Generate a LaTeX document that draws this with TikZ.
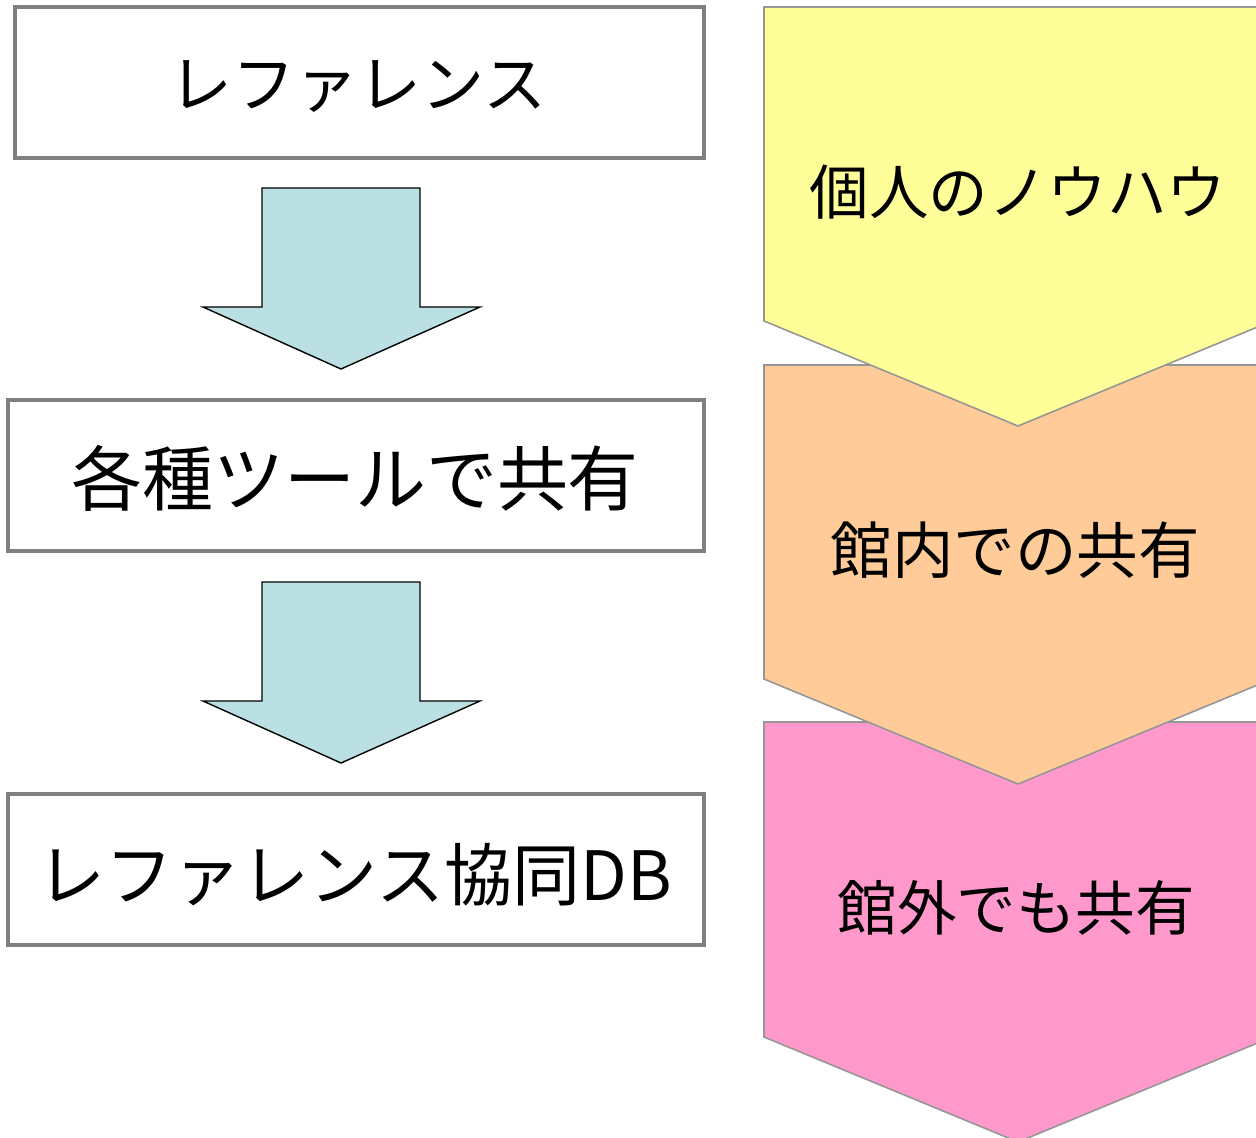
\documentclass[tikz,border=0pt]{standalone}
\usepackage{fontspec}
\setmainfont{Noto Sans CJK JP}
\begin{document}
\begin{tikzpicture}[x=1pt,y=-1pt,
  leftbox/.style={draw=boxgray,line width=4pt,fill=white,inner sep=0pt,anchor=center},
  chev/.style={draw=chevgray,line width=1.6pt},
  blockarrow/.style={draw=black,line width=1.4pt,fill=arrowblue,line join=miter},
  lbl/.style={inner sep=0pt,anchor=center,text=black}]
\definecolor{boxgray}{HTML}{808080}
\definecolor{chevgray}{HTML}{969696}
\definecolor{arrowblue}{HTML}{BBE0E3}
\definecolor{cyellow}{HTML}{FFFF99}
\definecolor{corange}{HTML}{FFCC99}
\definecolor{cpink}{HTML}{FF99CC}
\useasboundingbox (0,0) rectangle (1256,1138);
\clip (0,0) rectangle (1256,1138);
% left boxes
\node[leftbox,minimum width=689pt,minimum height=151pt] (b1) at (359.5,82.5) {};
\node[lbl,font=\fontsize{63}{70}\selectfont] (t1) at (358,87) {レファレンス};
\node[leftbox,minimum width=696pt,minimum height=151pt] (b2) at (356,475.5) {};
\node[lbl,font=\fontsize{71}{80}\selectfont] (t2) at (355,478) {各種ツールで共有};
\node[leftbox,minimum width=696pt,minimum height=151pt] (b3) at (356,869.5) {};
\node[lbl,font=\fontsize{68}{76}\selectfont] (t3) at (355,875) {レファレンス協同DB};
% block arrows
\draw[blockarrow] (262,188) -- (420,188) -- (420,307) -- (480,307) -- (341,369) -- (203,307) -- (262,307) -- cycle;
\draw[blockarrow] (262,582) -- (420,582) -- (420,701) -- (480,701) -- (341,763) -- (203,701) -- (262,701) -- cycle;
% chevrons (drawn bottom-up so upper ones overlap)
\draw[chev,fill=cpink] (764,722) -- (1272,722) -- (1272,1037) -- (1018,1142) -- (764,1037) -- cycle;
\draw[chev,fill=corange] (764,365) -- (1272,365) -- (1272,679) -- (1018,784) -- (764,679) -- cycle;
\draw[chev,fill=cyellow] (764,7) -- (1272,7) -- (1272,321) -- (1018,426) -- (764,321) -- cycle;
\node[lbl,font=\fontsize{59.5}{66}\selectfont] (r1) at (1018,192) {個人のノウハウ};
\node[lbl,font=\fontsize{61.5}{68}\selectfont] (r2) at (1015,550) {館内での共有};
\node[lbl,font=\fontsize{59.5}{66}\selectfont] (r3) at (1016,908) {館外でも共有};
\end{tikzpicture}
\end{document}
